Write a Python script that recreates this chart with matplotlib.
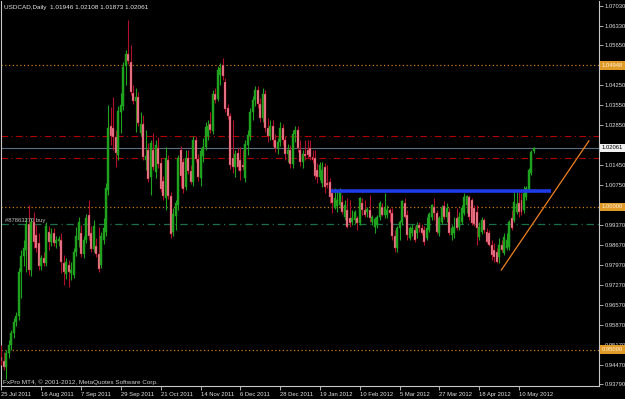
import matplotlib

matplotlib.use("Agg")
import matplotlib.pyplot as plt

# USDCAD daily bars, 25 Jul 2011 .. 18 May 2012 (weekdays)
opens = [
    0.9474, 0.9460, 0.9439, 0.9488, 0.9516, 0.9558, 0.9597, 0.9618, 0.9772, 0.9828,
    0.9849, 0.9940, 0.9779, 0.9947, 0.9901, 0.9873, 0.9793, 0.9821, 0.9803, 0.9912,
    0.9877, 0.9908, 0.9873, 0.9880, 0.9884, 0.9803, 0.9765, 0.9796, 0.9768, 0.9761,
    0.9842, 0.9884, 0.9908, 0.9835, 0.9884, 0.9971, 0.9908, 0.9852, 0.9863, 0.9835,
    0.9796, 0.9884, 0.9912, 1.0059, 1.0283, 1.0276, 1.0244, 1.0181, 1.0332, 1.0353,
    1.0493, 1.0535, 1.0507, 1.0398, 1.0370, 1.0384, 1.0258, 1.0290, 1.0164, 1.0199,
    1.0104, 1.0199, 1.0122, 1.0206, 1.0153, 1.0090, 1.0031, 1.0164, 1.0038, 0.9912,
    0.9968, 1.0006, 1.0199, 1.0157, 1.0069, 1.0171, 1.0125, 1.0087, 1.0234, 1.0167,
    1.0101, 1.0178, 1.0209, 1.0248, 1.0290, 1.0265, 1.0395, 1.0377, 1.0461, 1.0496,
    1.0437, 1.0346, 1.0318, 1.0171, 1.0139, 1.0188, 1.0164, 1.0146, 1.0101, 1.0216,
    1.0248, 1.0332, 1.0374, 1.0409, 1.0360, 1.0311, 1.0395, 1.0276, 1.0248, 1.0283,
    1.0234, 1.0206, 1.0227, 1.0276, 1.0234, 1.0185, 1.0199, 1.0150, 1.0255, 1.0269,
    1.0199, 1.0157, 1.0185, 1.0199, 1.0206, 1.0174, 1.0171, 1.0129, 1.0104, 1.0083,
    1.0139, 1.0083, 1.0087, 1.0048, 0.9996, 1.0003, 1.0006, 1.0017, 0.9964, 0.9989,
    0.9961, 0.9947, 0.9954, 0.9961, 0.9943, 1.0013, 0.9989, 0.9982, 0.9989, 0.9947,
    0.9929, 0.9936, 0.9964, 0.9999, 0.9971, 0.9971, 0.9989, 0.9978, 0.9898, 0.9856,
    0.9926, 0.9947, 1.0013, 0.9971, 0.9891, 0.9908, 0.9919, 0.9908, 0.9936, 0.9926,
    0.9919, 0.9891, 0.9919, 0.9964, 0.9999, 0.9978, 0.9908, 0.9947, 1.0003, 0.9964,
    0.9982, 0.9901, 0.9908, 0.9961, 0.9929, 0.9947, 0.9978, 1.0006, 1.0034, 1.0024,
    0.9996, 0.9982, 0.9894, 0.9912, 0.9954, 0.9912, 0.9908, 0.9866, 0.9849, 0.9842,
    0.9824, 0.9866, 0.9838, 0.9856, 0.9859, 0.9961, 0.9954, 0.9982, 1.0013, 1.0024,
    0.9989, 1.0034, 1.0059, 1.0118, 1.01946,
]
highs = [
    0.9516, 0.9492, 0.9499, 0.9534, 0.9569, 0.9611, 0.9632, 0.9786, 0.9849, 0.9884,
    0.9961, 1.0006, 0.9961, 0.9982, 0.9936, 0.9908, 0.9831, 0.9842, 0.9947, 0.9933,
    0.9926, 0.9926, 0.9898, 0.9898, 0.9908, 0.9831, 0.9821, 0.9814, 0.9807, 0.9856,
    0.9929, 0.9964, 0.9936, 0.9898, 0.9975, 1.0024, 0.9933, 0.9954, 0.9891, 0.9929,
    0.9912, 0.9961, 1.0083, 1.0356, 1.0349, 1.0384, 1.0269, 1.0353, 1.0398, 1.0507,
    1.0549, 1.0654, 1.0566, 1.0426, 1.0416, 1.0402, 1.0332, 1.0321, 1.0269, 1.0223,
    1.0234, 1.0258, 1.0234, 1.0244, 1.0171, 1.0108, 1.0209, 1.0181, 1.0052, 0.9996,
    1.0024, 1.0181, 1.0213, 1.0171, 1.0199, 1.0199, 1.0146, 1.0248, 1.0248, 1.0185,
    1.0206, 1.0241, 1.0297, 1.0304, 1.0332, 1.0409, 1.0416, 1.0493, 1.0503, 1.0521,
    1.0451, 1.0360, 1.0328, 1.0304, 1.0199, 1.0206, 1.0209, 1.0199, 1.0234, 1.0269,
    1.0346, 1.0388, 1.0423, 1.0423, 1.0381, 1.0416, 1.0409, 1.0311, 1.0304, 1.0304,
    1.0255, 1.0241, 1.0297, 1.0290, 1.0248, 1.0220, 1.0216, 1.0269, 1.0283, 1.0283,
    1.0234, 1.0199, 1.0234, 1.0234, 1.0234, 1.0199, 1.0199, 1.0153, 1.0157, 1.0157,
    1.0153, 1.0146, 1.0101, 1.0066, 1.0066, 1.0059, 1.0066, 1.0041, 1.0024, 1.0031,
    1.0024, 0.9989, 0.9989, 0.9968, 1.0034, 1.0031, 1.0024, 0.9999, 1.0041, 0.9971,
    0.9964, 0.9971, 1.0020, 1.0013, 1.0048, 1.0006, 0.9996, 0.9996, 0.9919, 0.9933,
    0.9954, 1.0024, 1.0031, 0.9989, 0.9933, 0.9940, 0.9933, 0.9947, 0.9947, 0.9940,
    0.9933, 0.9964, 0.9982, 1.0010, 1.0031, 0.9989, 0.9968, 1.0006, 1.0020, 1.0013,
    0.9996, 0.9936, 0.9964, 0.9996, 0.9982, 1.0006, 1.0048, 1.0041, 1.0041, 1.0031,
    1.0006, 1.0006, 0.9947, 0.9964, 0.9961, 0.9926, 0.9919, 0.9884, 0.9873, 0.9856,
    0.9891, 0.9884, 0.9908, 0.9908, 0.9954, 0.9989, 1.0059, 1.0052, 1.0052, 1.0048,
    1.0073, 1.0073, 1.0136, 1.0199, 1.02108,
]
lows = [
    0.9446, 0.9429, 0.9397, 0.9471, 0.9499, 0.9541, 0.9583, 0.9604, 0.9681, 0.9793,
    0.9772, 0.9761, 0.9758, 0.9856, 0.9842, 0.9779, 0.9779, 0.9793, 0.9793, 0.9849,
    0.9863, 0.9863, 0.9856, 0.9863, 0.9768, 0.9726, 0.9747, 0.9719, 0.9744, 0.9751,
    0.9828, 0.9859, 0.9824, 0.9821, 0.9873, 0.9884, 0.9842, 0.9842, 0.9824, 0.9772,
    0.9786, 0.9870, 0.9898, 1.0041, 1.0216, 1.0199, 1.0139, 1.0164, 1.0258, 1.0339,
    1.0426, 1.0500, 1.0391, 1.0360, 1.0262, 1.0283, 1.0248, 1.0164, 1.0129, 1.0087,
    1.0041, 1.0129, 1.0101, 1.0136, 1.0052, 1.0024, 0.9989, 1.0027, 0.9891, 0.9898,
    0.9919, 0.9989, 1.0069, 1.0048, 1.0059, 1.0115, 1.0080, 1.0073, 1.0157, 1.0090,
    1.0073, 1.0157, 1.0199, 1.0234, 1.0258, 1.0255, 1.0363, 1.0370, 1.0426, 1.0444,
    1.0332, 1.0307, 1.0132, 1.0118, 1.0104, 1.0129, 1.0094, 1.0129, 1.0087, 1.0181,
    1.0234, 1.0304, 1.0353, 1.0346, 1.0297, 1.0297, 1.0262, 1.0227, 1.0234, 1.0213,
    1.0192, 1.0185, 1.0213, 1.0216, 1.0164, 1.0157, 1.0136, 1.0136, 1.0227, 1.0192,
    1.0143, 1.0136, 1.0164, 1.0171, 1.0164, 1.0153, 1.0097, 1.0083, 1.0094, 1.0069,
    1.0048, 1.0066, 1.0013, 0.9978, 0.9992, 0.9982, 0.9996, 0.9975, 0.9954, 0.9926,
    0.9929, 0.9936, 0.9940, 0.9919, 0.9936, 0.9971, 0.9964, 0.9964, 0.9947, 0.9936,
    0.9908, 0.9926, 0.9954, 0.9968, 0.9961, 0.9961, 0.9947, 0.9884, 0.9842, 0.9842,
    0.9884, 0.9936, 0.9961, 0.9884, 0.9884, 0.9898, 0.9877, 0.9891, 0.9912, 0.9901,
    0.9866, 0.9884, 0.9912, 0.9954, 0.9954, 0.9905, 0.9898, 0.9940, 0.9957, 0.9947,
    0.9901, 0.9884, 0.9891, 0.9919, 0.9919, 0.9940, 0.9971, 0.9978, 0.9954, 0.9936,
    0.9933, 0.9866, 0.9884, 0.9905, 0.9908, 0.9873, 0.9863, 0.9814, 0.9807, 0.9803,
    0.9803, 0.9842, 0.9831, 0.9849, 0.9849, 0.9919, 0.9947, 0.9975, 0.9964, 0.9971,
    0.9978, 1.0024, 1.0052, 1.0111, 1.01873,
]
closes = [
    0.9460, 0.9439, 0.9488, 0.9516, 0.9558, 0.9597, 0.9618, 0.9772, 0.9828, 0.9856,
    0.9940, 0.9779, 0.9947, 0.9877, 0.9856, 0.9793, 0.9821, 0.9803, 0.9933, 0.9877,
    0.9905, 0.9873, 0.9884, 0.9887, 0.9807, 0.9772, 0.9807, 0.9772, 0.9779, 0.9842,
    0.9898, 0.9947, 0.9835, 0.9884, 0.9961, 0.9898, 0.9852, 0.9933, 0.9835, 0.9782,
    0.9898, 0.9926, 1.0066, 1.0276, 1.0248, 1.0244, 1.0188, 1.0335, 1.0356, 1.0489,
    1.0535, 1.0510, 1.0402, 1.0370, 1.0384, 1.0293, 1.0290, 1.0174, 1.0178, 1.0097,
    1.0223, 1.0139, 1.0216, 1.0150, 1.0062, 1.0038, 1.0171, 1.0038, 0.9905, 0.9975,
    1.0013, 1.0171, 1.0108, 1.0062, 1.0171, 1.0125, 1.0087, 1.0234, 1.0167, 1.0104,
    1.0195, 1.0209, 1.0279, 1.0283, 1.0269, 1.0395, 1.0374, 1.0479, 1.0486, 1.0458,
    1.0342, 1.0318, 1.0146, 1.0139, 1.0185, 1.0139, 1.0125, 1.0139, 1.0220, 1.0251,
    1.0332, 1.0374, 1.0409, 1.0360, 1.0311, 1.0395, 1.0276, 1.0248, 1.0283, 1.0234,
    1.0206, 1.0227, 1.0276, 1.0234, 1.0185, 1.0199, 1.0150, 1.0255, 1.0269, 1.0206,
    1.0157, 1.0185, 1.0178, 1.0181, 1.0174, 1.0164, 1.0108, 1.0104, 1.0146, 1.0129,
    1.0069, 1.0076, 1.0034, 1.0013, 1.0031, 1.0024, 1.0052, 0.9982, 1.0006, 0.9929,
    0.9943, 0.9961, 0.9982, 0.9943, 1.0031, 0.9989, 0.9971, 0.9992, 0.9961, 0.9964,
    0.9957, 0.9964, 1.0013, 0.9971, 0.9996, 0.9989, 0.9978, 0.9898, 0.9856, 0.9926,
    0.9947, 1.0020, 0.9964, 0.9901, 0.9926, 0.9926, 0.9884, 0.9936, 0.9926, 0.9908,
    0.9877, 0.9926, 0.9975, 1.0006, 0.9978, 0.9912, 0.9961, 0.9996, 0.9964, 0.9996,
    0.9908, 0.9926, 0.9929, 0.9926, 0.9964, 0.9996, 1.0034, 1.0038, 0.9964, 0.9943,
    0.9940, 0.9926, 0.9929, 0.9954, 0.9919, 0.9877, 0.9866, 0.9831, 0.9824, 0.9807,
    0.9866, 0.9849, 0.9894, 0.9884, 0.9947, 0.9926, 1.0017, 1.0010, 0.9982, 0.9982,
    1.0048, 1.0066, 1.0129, 1.0192, 1.02061,
]

date_labels = ["25 Jul 2011", "16 Aug 2011", "7 Sep 2011", "29 Sep 2011",
               "21 Oct 2011", "14 Nov 2011", "6 Dec 2011", "28 Dec 2011",
               "19 Jan 2012", "10 Feb 2012", "5 Mar 2012", "27 Mar 2012",
               "18 Apr 2012", "10 May 2012"]
date_bars = [0, 16, 32, 48, 64, 80, 96, 112, 128, 144, 160, 176, 192, 208]

price_ticks = [1.07030, 1.06330, 1.05650, 1.04950, 1.04250, 1.03550, 1.02850,
               1.02150, 1.01450, 1.00750, 1.00050, 0.99370, 0.98670, 0.97970,
               0.97270, 0.96570, 0.95870, 0.95170, 0.94470, 0.93790]
# scale labels that sit under a price box
hidden_ticks = [1.04950, 1.02150, 1.00050]

red_levels = [1.0248, 1.0171]
orange_levels = [1.04948, 1.00000, 0.95000]
buy_level = 0.9941
blue_bars = [132.4, 221.0]
blue_price = 1.0056
trend_bars = [200.9, 236.1]
trend_prices = [0.9779, 1.0231]

BG = "black"
AXIS = "#c8c8c8"
BULL = "#1fa31f"
BEAR_BODY = "#f08a98"
BEAR_WICK = "#b0102a"
FS = 4.2

plt.rcParams["font.family"] = ["Liberation Sans", "DejaVu Sans"]

fig = plt.figure(figsize=(6.25, 3.99), dpi=100, facecolor=BG)
ax = fig.add_axes([1 / 625, 13 / 399, 598 / 625, 385 / 399], facecolor=BG)

n = len(closes)
xs = list(range(n))
up = [c >= o for o, c in zip(opens, closes)]
wick_cols = [BULL if u else BEAR_WICK for u in up]
body_cols = [BULL if u else BEAR_BODY for u in up]
bottoms = [min(o, c) for o, c in zip(opens, closes)]
heights = [max(abs(c - o), 0.00035) for o, c in zip(opens, closes)]

ax.vlines(xs, lows, highs, colors=wick_cols, linewidth=0.8, zorder=3)
ax.bar(xs, heights, bottom=bottoms, width=0.8, color=body_cols,
       edgecolor=wick_cols, linewidth=0.3, zorder=4)

# objects on the chart
for lv in red_levels:
    ax.axhline(lv, color="#b00000", lw=0.8, ls=(0, (6, 3, 1, 3)), zorder=2)
for lv in orange_levels:
    ax.axhline(lv, color="#c87a12", lw=0.9, ls=(0, (1, 2)), zorder=2)
ax.axhline(buy_level, color="#1b6e4a", lw=0.9, ls=(0, (6, 3, 1, 3)), zorder=2)
ax.axhline(closes[-1], color="#5a7080", lw=0.8, zorder=2)
ax.plot(blue_bars, [blue_price, blue_price], color="#1f3be6", lw=2.6,
        solid_capstyle="butt", zorder=5)
ax.plot(trend_bars, trend_prices, color="#f08020", lw=0.9, zorder=6)
ax.text(1.5, buy_level + 0.0004, "#87863270 buy", color="#c0c0c0",
        fontsize=FS, va="bottom", ha="left", zorder=7)

ax.set_xlim(-0.2, 240.15)
ax.set_ylim(0.93730, 1.07205)

ax.spines["top"].set_visible(False)
for side in ("left", "right", "bottom"):
    ax.spines[side].set_color(AXIS)
    ax.spines[side].set_linewidth(0.8)

ax.yaxis.tick_right()
ax.set_yticks(price_ticks)
ax.set_yticklabels(["" if p in hidden_ticks else f"{p:.5f}" for p in price_ticks])
ax.tick_params(axis="y", colors=AXIS, labelcolor="#e0e0e0", labelsize=FS,
               length=3, width=0.6, pad=1.2)
ax.set_xticks(date_bars)
ax.set_xticklabels(date_labels, ha="left")
ax.tick_params(axis="x", colors=AXIS, labelcolor="#e0e0e0", labelsize=FS,
               length=3, width=0.6, pad=1.5)

# price boxes on the right scale
box_tf = ax.get_yaxis_transform()
for lv in orange_levels:
    ax.text(1.0045, lv, f"{lv:.5f}", transform=box_tf, ha="left", va="center",
            fontsize=FS, color="#fff2d8", clip_on=False, zorder=10,
            bbox=dict(boxstyle="square,pad=0.3", fc="#e09a28", ec="none"))
ax.text(1.0045, closes[-1], f"{closes[-1]:.5f}", transform=box_tf, ha="left",
        va="center", fontsize=FS, color="black", clip_on=False, zorder=10,
        bbox=dict(boxstyle="square,pad=0.3", fc="#f0f0f0", ec="none"))

fig.text(4 / 625, 1 - 7 / 399,
         f"USDCAD,Daily  {opens[-1]:.5f} {highs[-1]:.5f} {lows[-1]:.5f} {closes[-1]:.5f}",
         color="#e8e8e8", fontsize=4.6, va="center", ha="left")
fig.text(3 / 625, 1 - 382 / 399, "FxPro MT4, © 2001-2012, MetaQuotes Software Corp.",
         color="#d0d0d0", fontsize=4.6, va="center", ha="left")

fig.savefig("out.png", dpi=100, facecolor=BG)
plt.close(fig)
